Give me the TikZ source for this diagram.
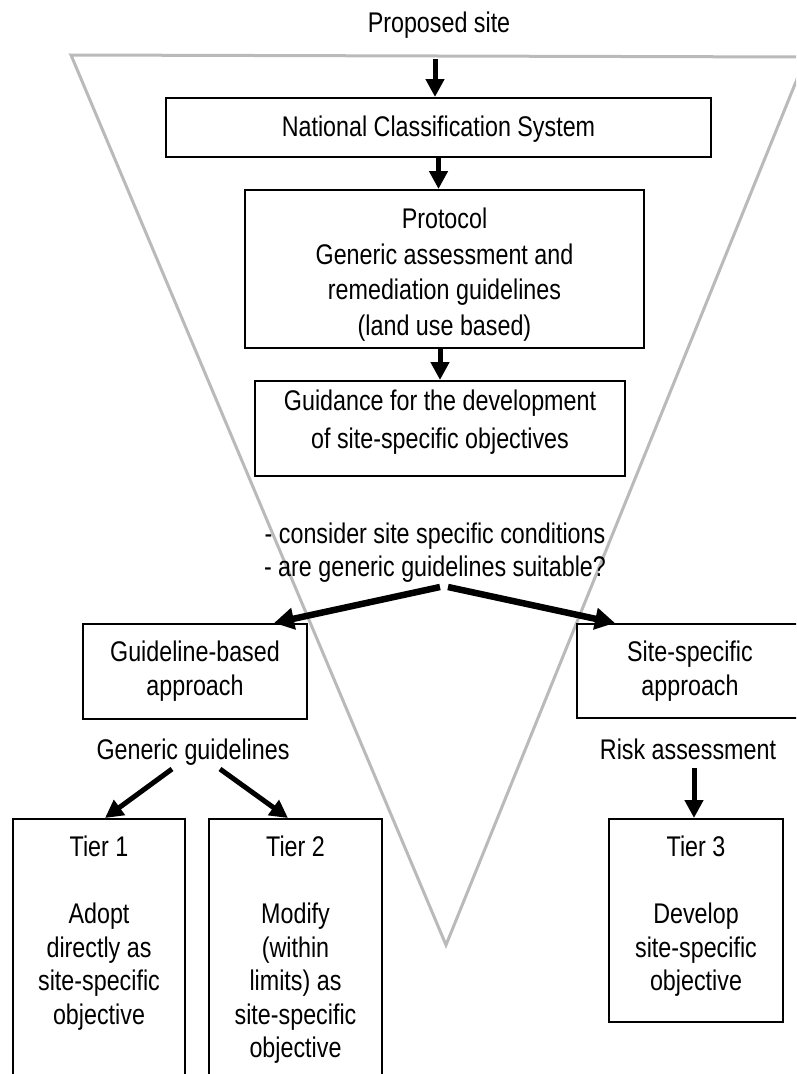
\documentclass[tikz,border=0pt]{standalone}
\usepackage{fontspec}
\usepackage{graphicx}
\setmainfont{Liberation Sans}
\usetikzlibrary{arrows.meta,calc}
\newcommand\ST[1]{\scalebox{1}[1.22]{#1}}
\begin{document}
\begin{tikzpicture}[x=1pt,y=-1pt,
  box/.style={draw, line width=2pt, inner sep=0pt},
  txt/.style={font=\fontsize{23.3}{33.5}\selectfont, align=center, inner sep=0pt},
  arr/.style={line width=5pt, -{Triangle[length=18pt,width=18pt]}},
  bigarr/.style={line width=6.5pt, -{Triangle[length=20pt,width=21pt]}},
  funnel/.style={draw=black!27, line width=3pt, line join=miter}]
\useasboundingbox (0,0) rectangle (796,1074);
\clip (0,0) rectangle (796,1074);
% funnel
\draw[funnel] (71,55) -- (806,57) -- (446,945) -- cycle;
% title
\node[txt, anchor=base] (ps) at (439,32) {\ST{Proposed site}};
% boxes
\node[box, minimum width=545pt, minimum height=59pt] (ncs) at (438.5,127.5) {};
\node[box, minimum width=399pt, minimum height=158pt] (prot) at (444.5,269) {};
\node[box, minimum width=370pt, minimum height=95pt] (guid) at (440,428.5) {};
\node[box, minimum width=224pt, minimum height=95pt] (gb) at (195,671.5) {};
\node[box, minimum width=226pt, minimum height=94pt] (ss) at (690,671) {};
\node[box, minimum width=172pt, minimum height=291pt] (t1) at (99,964.5) {};
\node[box, minimum width=173pt, minimum height=291pt] (t2) at (295.5,964.5) {};
\node[box, minimum width=174pt, minimum height=203pt] (t3) at (696,920.5) {};
% texts
\node[txt, anchor=base] (ncst) at (438.5,136.5) {\ST{National Classification System}};
\node[txt, anchor=north, font=\fontsize{23.3}{35.7}\selectfont] (prott) at (444.5,207.5) {\ST{Protocol}\\\ST{Generic assessment and}\\\ST{remediation guidelines}\\\ST{(land use based)}};
\node[txt, anchor=north, font=\fontsize{23.3}{38}\selectfont] (guidt) at (440,389.5) {\ST{Guidance for the development}\\\ST{of site-specific objectives}};
\node[txt, anchor=north, font=\fontsize{23.3}{33}\selectfont] (cond) at (435,522.5) {\ST{- consider site specific conditions}\\\ST{- are generic guidelines suitable?}};
\node[txt, anchor=north, font=\fontsize{23.3}{34}\selectfont] (gbt) at (195,640.5) {\ST{Guideline-based}\\\ST{approach}};
\node[txt, anchor=north, font=\fontsize{23.3}{34}\selectfont] (sst) at (690,640.5) {\ST{Site-specific}\\\ST{approach}};
\node[txt, anchor=base] (gg) at (193,759) {\ST{Generic guidelines}};
\node[txt, anchor=base] (ra) at (688,759) {\ST{Risk assessment}};
\node[txt, anchor=north] (t1t) at (99,836) {\ST{Tier 1}\\[33.5pt]\ST{Adopt}\\\ST{directly as}\\\ST{site-specific}\\\ST{objective}};
\node[txt, anchor=north] (t2t) at (295.5,836) {\ST{Tier 2}\\[33.5pt]\ST{Modify}\\\ST{(within}\\\ST{limits) as}\\\ST{site-specific}\\\ST{objective}};
\node[txt, anchor=north] (t3t) at (696,836) {\ST{Tier 3}\\[33.5pt]\ST{Develop}\\\ST{site-specific}\\\ST{objective}};
% arrows
\coordinate (top) at (435,59);
\draw[arr] (top) -- (top |- ncs.north);
\draw[arr] (ncs.south) -- (ncs.south |- prot.north);
\draw[arr] (guid.north |- prot.south) -- (guid.north);
\coordinate (sl) at (440,587);
\coordinate (sr) at (448,587);
\draw[bigarr] (sl) -- ([xshift=79pt]gb.north);
\draw[bigarr] (sr) -- ([xshift=-75pt]ss.north);
\coordinate (gl) at (172,769);
\coordinate (gr) at (220,769);
\draw[arr] (gl) -- ([xshift=6pt]t1.north);
\draw[arr] (gr) -- ([xshift=-7.5pt]t2.north);
\coordinate (rl) at (694,768);
\draw[arr] (rl) -- (rl |- t3.north);
\end{tikzpicture}
\end{document}
